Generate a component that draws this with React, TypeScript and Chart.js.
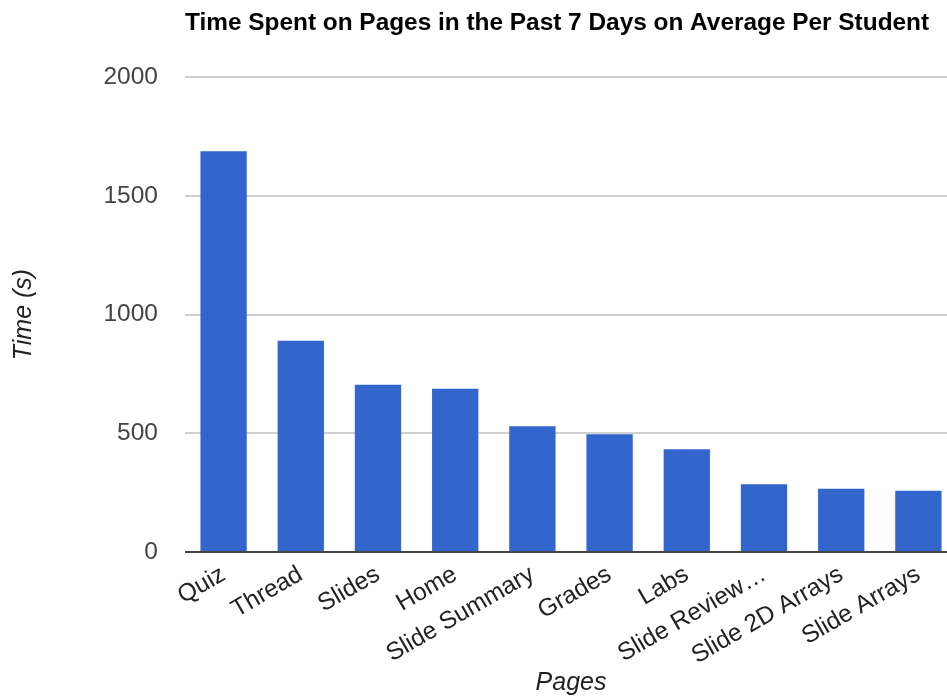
import React, { useEffect, useRef } from "react";
import { Chart, registerables } from "chart.js";

Chart.register(...registerables);

// Average seconds per student spent on each page over the last week
const pages: string[] = [
  "Quiz",
  "Thread",
  "Slides",
  "Home",
  "Slide Summary",
  "Grades",
  "Labs",
  "Slide Review\u2026",
  "Slide 2D Arrays",
  "Slide Arrays",
];
const secondsPerStudent: number[] = [1688, 890, 705, 688, 530, 496, 433, 285, 266, 258];
const yTickValues: number[] = [0, 500, 1000, 1500, 2000];

const chartTitle = "Time Spent on Pages in the Past 7 Days on Average Per Student";
const xAxisTitle = "Pages";
const yAxisTitle = "Time (s)";

const FONT = "'Liberation Sans', Arial, Helvetica, sans-serif";

export default function App() {
  const canvasRef = useRef<HTMLCanvasElement | null>(null);

  useEffect(() => {
    const canvas = canvasRef.current;
    if (!canvas) return;
    const chart = new Chart(canvas, {
      type: "bar",
      data: {
        labels: pages,
        datasets: [
          {
            label: yAxisTitle,
            data: secondsPerStudent,
            backgroundColor: "#3366cc",
            borderWidth: 0,
            barPercentage: 0.6,
            categoryPercentage: 1,
          },
        ],
      },
      options: {
        responsive: false,
        animation: false,
        devicePixelRatio: 1,
        layout: { padding: { left: 0, right: 3, top: 0, bottom: 0 } },
        plugins: {
          legend: { display: false },
          tooltip: { enabled: false },
          title: {
            display: true,
            text: chartTitle,
            align: "start",
            fullSize: false,
            color: "#000000",
            font: { family: FONT, size: 24.4, weight: "bold" },
            padding: { top: 8.6, bottom: 39.3 },
          },
        },
        scales: {
          x: {
            grid: { display: false },
            border: { display: false },
            ticks: {
              autoSkip: false,
              minRotation: 30,
              maxRotation: 30,
              color: "#222222",
              padding: 0,
              font: { family: FONT, size: 24.5 },
            },
            title: {
              display: true,
              text: xAxisTitle,
              color: "#222222",
              font: { family: FONT, size: 25, style: "italic" },
              padding: { top: 0, bottom: 0 },
            },
            afterFit: (scale: any) => {
              scale.height = 146;
            },
          },
          y: {
            min: 0,
            max: 2000,
            afterBuildTicks: (scale: any) => {
              scale.ticks = yTickValues.map((v) => ({ value: v }));
            },
            border: { display: false },
            grid: {
              drawTicks: false,
              color: (ctx: any) => (ctx.tick && ctx.tick.value === 0 ? "#444444" : "#d0d0d0"),
              lineWidth: 2,
            },
            ticks: {
              color: "#444444",
              padding: 27,
              font: { family: FONT, size: 24.5 },
              callback: (value: any) => String(value),
            },
            title: {
              display: true,
              text: yAxisTitle,
              color: "#222222",
              font: { family: FONT, size: 25, style: "italic" },
              padding: { top: 8.6, bottom: 0 },
            },
            afterFit: (scale: any) => {
              scale.width = 185;
            },
          },
        },
      },
    });
    return () => chart.destroy();
  }, []);

  return (
    <div
      style={{
        position: "absolute",
        left: 0,
        top: 0,
        width: 947,
        height: 698,
        overflow: "hidden",
        background: "#ffffff",
      }}
    >
      <canvas ref={canvasRef} width={960} height={698} style={{ display: "block" }} />
    </div>
  );
}
